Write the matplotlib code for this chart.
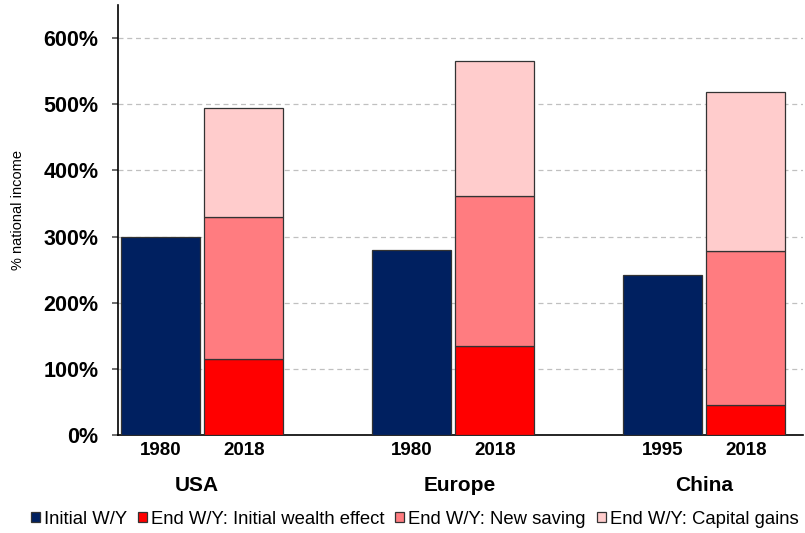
import matplotlib.pyplot as plt
import numpy as np

plt.rcParams['font.family'] = ['Liberation Sans', 'DejaVu Sans']

regions = ['USA', 'Europe', 'China']
start_years = ['1980', '1980', '1995']
end_years = ['2018', '2018', '2018']

initial_wy = [300, 280, 242]
initial_wealth = [115, 134, 45]
new_saving = [214, 228, 233]
capital_gains = [166, 204, 240]

series_names = ['Initial W/Y', 'End W/Y: Initial wealth effect',
                'End W/Y: New saving', 'End W/Y: Capital gains']
colors = ['#002060', '#ff0000', '#ff7c80', '#ffcccc']

fig = plt.figure(figsize=(8.05, 5.33), dpi=100)
ax = fig.add_axes([0.1466, 0.1839, 0.851, 0.8067])

x = np.arange(len(regions))
width = 0.315
off = 0.166

edge = dict(edgecolor='#333333', linewidth=0.9)
b0 = ax.bar(x - off, initial_wy, width, color=colors[0], label=series_names[0], zorder=3, **edge)
b1 = ax.bar(x + off, initial_wealth, width, color=colors[1], label=series_names[1], zorder=3, **edge)
bottom = np.array(initial_wealth)
b2 = ax.bar(x + off, new_saving, width, bottom=bottom, color=colors[2], label=series_names[2], zorder=3, **edge)
bottom = bottom + np.array(new_saving)
b3 = ax.bar(x + off, capital_gains, width, bottom=bottom, color=colors[3], label=series_names[3], zorder=3, **edge)

ax.set_ylim(0, 650)
ax.set_xlim(-0.335, 2.394)
ax.set_yticks(range(0, 700, 100))
ax.set_yticklabels([f'{v}%' for v in range(0, 700, 100)], fontsize=15.5, fontweight='bold')
ax.yaxis.grid(True, linestyle=(0, (4, 3)), color='#c0c0c0', linewidth=0.9, zorder=0)
ax.tick_params(axis='y', length=4.5, width=1.2, color='#555555', pad=9.5)

ticks = list(x - off) + list(x + off)
labels = start_years + end_years
ax.set_xticks(ticks)
ax.set_xticklabels(labels, fontsize=13.5, fontweight='bold')
ax.tick_params(axis='x', length=0, pad=5)

# group names sit a little off the group centres in the original
name_shift = [-0.02, 0.025, 0.0]
for xi, name, dx in zip(x, regions, name_shift):
    ax.text(xi + dx, -0.118, name, transform=ax.get_xaxis_transform(),
            ha='center', va='center', fontsize=15, fontweight='bold')

for s in ['top', 'right']:
    ax.spines[s].set_visible(False)
for s in ['left', 'bottom']:
    ax.spines[s].set_color('black')
    ax.spines[s].set_linewidth(1.2)

ax.set_ylabel('% national income', fontsize=10.5)
ax.yaxis.set_label_coords(-0.136, 0.523)

fig.legend(handles=[b0, b1, b2, b3], loc='center left', bbox_to_anchor=(0.038, 0.026),
           ncol=4, frameon=False, fontsize=13.3, handlelength=0.5, handleheight=0.5,
           handletextpad=0.2, columnspacing=0.6, borderaxespad=0, borderpad=0)

fig.savefig('out.png', dpi=100)
